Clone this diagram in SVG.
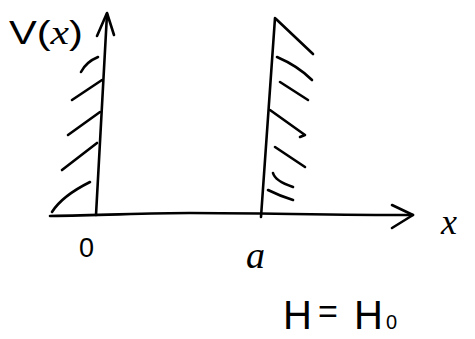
<svg xmlns="http://www.w3.org/2000/svg" width="475" height="339" viewBox="0 0 475 339">
<style>
.s{fill:none;stroke:#000;stroke-width:2.6;stroke-linecap:round;stroke-linejoin:round}
.t{font-family:"Liberation Sans","DejaVu Sans",sans-serif;fill:#000}
.i{font-family:"Liberation Serif","DejaVu Serif",serif;font-style:italic;fill:#000}
</style>
<rect width="475" height="339" fill="#fff"/>
<g id="axes">
<path class="s" d="M96,215 L107,14"/>
<path class="s" d="M97,36 L107,13 L114,35"/>
<path class="s" d="M50,216 C110,215 150,213 190,213 C260,213 330,215 413,215"/>
<path class="s" d="M392,205 L413,215 L392,228"/>
</g>
<g id="left-wall-hatch">
<path class="s" d="M81,72 Q86,62 98,57"/>
<path class="s" d="M72,100 L102,80"/>
<path class="s" d="M68,135 L100,112"/>
<path class="s" d="M62,170 L97,143"/>
<path class="s" d="M52,212 Q62,196 90,182"/>
</g>
<g id="right-wall">
<path class="s" d="M275,18 L261,217"/>
<path class="s" d="M276,19 L313,54"/>
<path class="s" d="M277,57 Q298,66 312,80"/>
<path class="s" d="M280,82 L308,100"/>
<path class="s" d="M270,110 L305,135 L300,137"/>
<path class="s" d="M275,147 L305,167"/>
<path class="s" d="M273,173 Q275,181 293,187"/>
<path class="s" d="M268,190 Q280,196 293,200"/>
</g>
<g id="labels">
<text class="t" x="9" y="44" font-size="34" textLength="74" lengthAdjust="spacingAndGlyphs">V(<tspan class="i">x</tspan>)</text>
<text class="t" x="79" y="257" font-size="27">0</text>
<text class="i" x="246" y="268" font-size="38">a</text>
<text class="i" x="441" y="234" font-size="36">x</text>
<text class="t" x="283" y="329" font-size="40">H<tspan x="318" font-size="34" dy="-6">=</tspan><tspan x="354" dy="6">H</tspan><tspan x="386" font-size="20">0</tspan></text>
</g>
</svg>
